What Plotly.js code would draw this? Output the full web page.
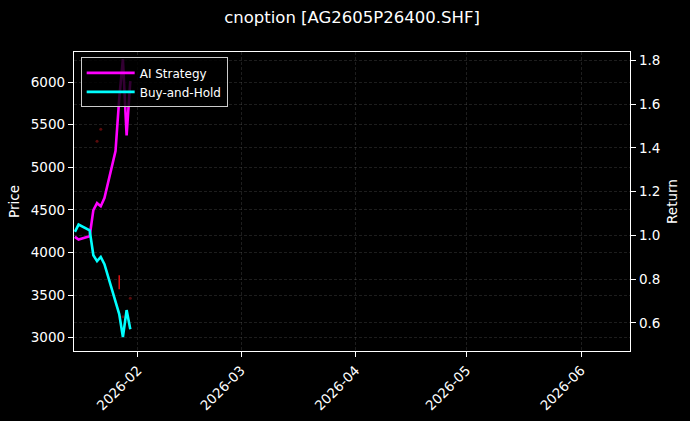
<!DOCTYPE html>
<html>
<head>
<meta charset="utf-8">
<script src="https://cdn.plot.ly/plotly-3.0.1.min.js"></script>
<style>
  html, body { margin: 0; padding: 0; background: #000; }
  #chart { width: 690px; height: 421px; }
</style>
</head>
<body>
<div id="chart"></div>
<script>
// trading days shown on the chart
const dates = ['2026-01-15', '2026-01-16', '2026-01-19', '2026-01-20', '2026-01-21', '2026-01-22',
               '2026-01-23', '2026-01-26', '2026-01-27', '2026-01-28', '2026-01-29', '2026-01-30'];

// cumulative returns (right axis)
const aiStrategy  = [0.993, 0.981, 0.996, 1.115, 1.147, 1.133, 1.170, 1.385, 1.625, 1.805, 1.457, 1.705];
const buyAndHold  = [1.016, 1.049, 1.023, 0.909, 0.882, 0.901, 0.868, 0.704, 0.640, 0.535, 0.658, 0.571];

// faint price marks (left axis)
const faintDates  = ['2026-01-21', '2026-01-22', '2026-01-28', '2026-01-30'];
const faintPrices = [5305, 5446, 3246, 3464];
const signalDates  = ['2026-01-27'];
const signalPrices = [3650];

const priceTicks  = [3000, 3500, 4000, 4500, 5000, 5500, 6000];
const returnTicks = [0.6, 0.8, 1.0, 1.2, 1.4, 1.6, 1.8];

const font = { family: 'DejaVu Sans, sans-serif', color: '#ffffff', size: 13.5 };
const grid = 'rgba(128,128,128,0.32)';

const traces = [
  {
    x: faintDates, y: faintPrices, yaxis: 'y', type: 'scatter', mode: 'markers',
    showlegend: false, hoverinfo: 'skip',
    marker: { color: '#5a0c0c', size: 3 }
  },
  {
    x: signalDates, y: signalPrices, yaxis: 'y', type: 'scatter', mode: 'markers',
    showlegend: false, hoverinfo: 'skip',
    marker: { symbol: 'line-ns-open', size: 10, color: '#e01010', line: { color: '#e01010', width: 1.5 } }
  },
  {
    x: dates, y: aiStrategy, yaxis: 'y2', name: 'AI Strategy', type: 'scatter', mode: 'lines',
    line: { color: '#ff00ff', width: 2.6 }
  },
  {
    x: dates, y: buyAndHold, yaxis: 'y2', name: 'Buy-and-Hold', type: 'scatter', mode: 'lines',
    line: { color: '#00ffff', width: 2.6 }
  }
];

const layout = {
  width: 690, height: 421,
  paper_bgcolor: '#000', plot_bgcolor: '#000',
  font: font,
  margin: { l: 74, r: 60, t: 52, b: 70 },
  title: {
    text: 'cnoption [AG2605P26400.SHF]',
    font: { family: 'DejaVu Sans, sans-serif', size: 16.5, color: '#ffffff' },
    x: 0.5, xref: 'paper', y: 1 - 17 / 421, yanchor: 'middle'
  },
  showlegend: true,
  legend: {
    x: 0.012, y: 0.982, xanchor: 'left', yanchor: 'top',
    bgcolor: 'rgba(0,0,0,0.8)', bordercolor: '#cccccc', borderwidth: 1,
    font: { family: 'DejaVu Sans, sans-serif', size: 12, color: '#ffffff' },
    itemwidth: 48, tracegroupgap: 0
  },
  xaxis: {
    type: 'date',
    range: ['2026-01-14 18:15', '2026-06-14 06:15'],
    tick0: '2026-02-01', dtick: 'M1', tickformat: '%Y-%m',
    tickangle: -45,
    ticks: 'outside', ticklen: 5, tickcolor: '#fff',
    showline: true, linecolor: '#fff', linewidth: 1.2, mirror: true,
    showgrid: true, gridcolor: grid, griddash: '3px,2px', gridwidth: 0.7,
    zeroline: false
  },
  yaxis: {
    range: [2844, 6352],
    tickvals: priceTicks,
    ticks: 'outside', ticklen: 5, tickcolor: '#fff',
    showline: true, linecolor: '#fff', linewidth: 1.2,
    showgrid: true, gridcolor: grid, griddash: '3px,2px', gridwidth: 0.7,
    zeroline: false,
    title: { text: 'Price', font: { size: 13.5, color: '#fff' }, standoff: 8 }
  },
  yaxis2: {
    overlaying: 'y', side: 'right',
    range: [0.471, 1.838],
    tickvals: returnTicks, tickformat: '.1f',
    ticks: 'outside', ticklen: 5, tickcolor: '#fff',
    showline: true, linecolor: '#fff', linewidth: 1.2,
    showgrid: true, gridcolor: grid, griddash: '3px,2px', gridwidth: 0.7,
    zeroline: false,
    title: { text: 'Return', font: { size: 13.5, color: '#fff' }, standoff: 8 }
  }
};

Plotly.newPlot('chart', traces, layout, { displayModeBar: false, staticPlot: true });
</script>
</body>
</html>
